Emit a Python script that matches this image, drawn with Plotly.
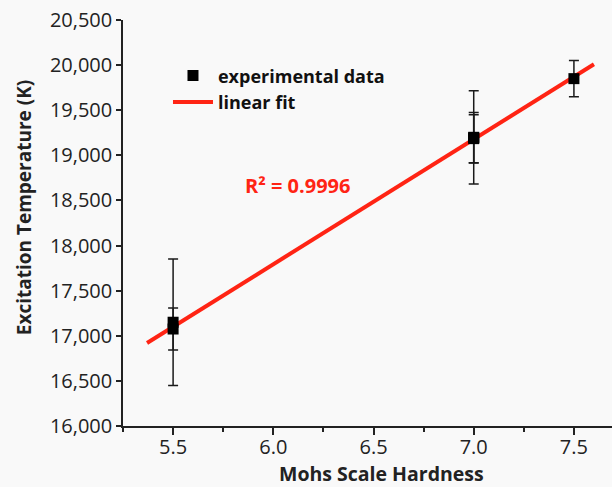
import plotly.graph_objects as go

# Experimental data (Mohs hardness vs excitation temperature)
hardness = [5.5, 5.5, 7.0, 7.0, 7.0, 7.5]
temperature = [17150, 17075, 19200, 19185, 19195, 19850]
temp_error = [700, 232, 517, 266, 279, 200]

# Linear fit line (end points)
fit_x = [5.37, 7.60]
fit_y = [16920, 20010]

r2_text = "R² = 0.9996"
x_title = "Mohs Scale Hardness"
y_title = "Excitation Temperature (K)"

y_tickvals = list(range(16000, 20501, 500))

fig = go.Figure()

fig.add_trace(go.Scatter(
    x=fit_x, y=fit_y, mode="lines", name="linear fit",
    line=dict(color="#ff2414", width=4),
))

fig.add_trace(go.Scatter(
    x=hardness, y=temperature, mode="markers", name="experimental data",
    marker=dict(symbol="square", size=11, color="black"),
    error_y=dict(type="data", array=temp_error, visible=True,
                 color="#1a1a1a", thickness=1.5, width=5),
))

fig.add_annotation(
    x=6.125, y=18670, text="<b>" + r2_text + "</b>", showarrow=False,
    font=dict(family="Open Sans", size=20, color="#ff2414"),
)
fig.add_annotation(
    xref="paper", yref="paper", x=0.528, y=-0.118, xanchor="center", yanchor="middle",
    text="<b>" + x_title + "</b>",
    showarrow=False, font=dict(family="Open Sans", size=19.5, color="#222222"),
)
fig.add_annotation(
    xref="paper", yref="paper", x=-0.202, y=0.537, xanchor="center", yanchor="middle",
    text="<b>" + y_title + "</b>",
    textangle=-90, showarrow=False, font=dict(family="Open Sans", size=19, color="#222222"),
)

fig.update_layout(
    width=612, height=487,
    margin=dict(l=123, r=0, t=20, b=61),
    paper_bgcolor="#f9f9f9", plot_bgcolor="#f9f9f9",
    font=dict(family="Open Sans", size=20, color="#222222"),
    showlegend=True,
    legend=dict(
        x=0.092, y=0.908, xanchor="left", yanchor="top",
        traceorder="reversed",
        font=dict(family="Open Sans", size=18, color="#111111", weight="bold"),
        bgcolor="rgba(0,0,0,0)", itemwidth=40,
    ),
    xaxis=dict(
        range=[5.25, 7.69], tickvals=[5.5, 6.0, 6.5, 7.0, 7.5],
        ticktext=["5.5", "6.0", "6.5", "7.0", "7.5"],
        showgrid=False, zeroline=False, showline=True, linecolor="#222222", linewidth=1.5,
        ticks="outside", ticklen=7, tickwidth=1.5, tickcolor="#222222",
        ticklabelstandoff=-5,
        minor=dict(dtick=0.25, tick0=5.25, ticks="outside", ticklen=4, tickwidth=1.5, tickcolor="#222222"),
    ),
    yaxis=dict(
        range=[16000, 20500], tickvals=y_tickvals, tickformat=",",
        showgrid=False, zeroline=False, showline=True, linecolor="#222222", linewidth=1.5,
        ticks="outside", ticklen=5, tickwidth=1.5, tickcolor="#222222",
    ),
)

fig.write_html("out.html")
